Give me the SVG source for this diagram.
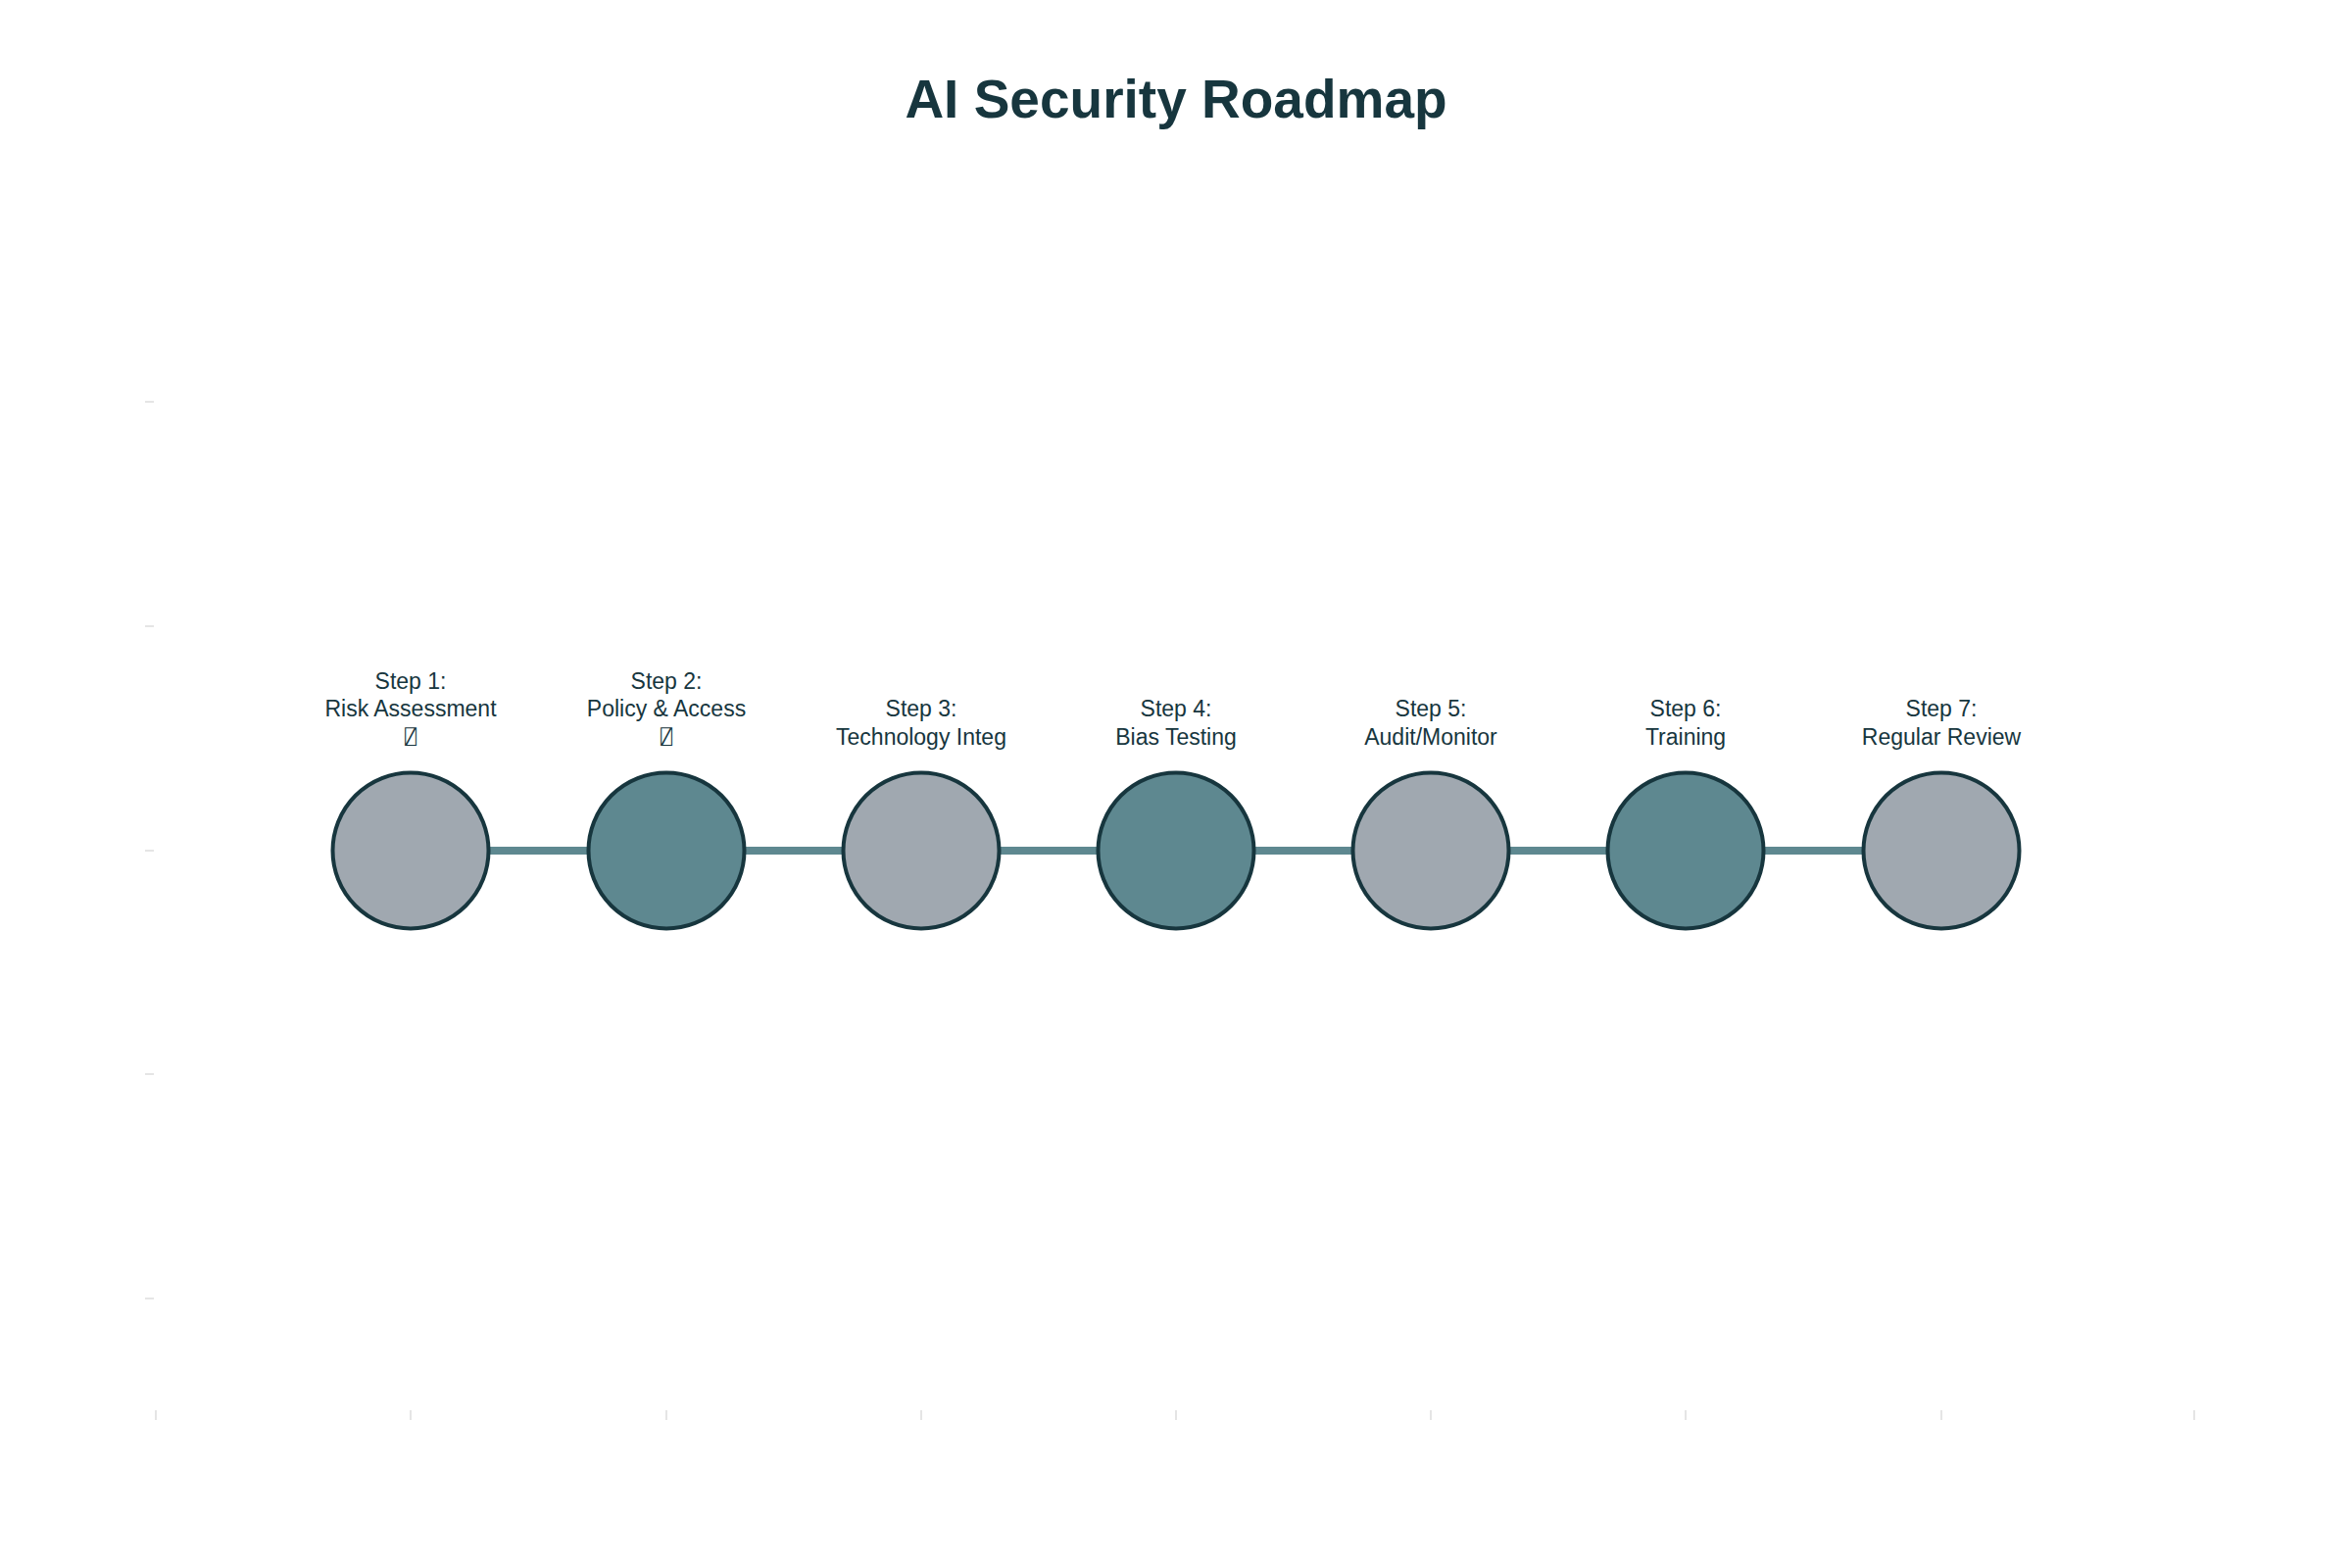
<svg xmlns="http://www.w3.org/2000/svg" width="2400" height="1600" viewBox="0 0 2400 1600">
<style>
.title{font-family:"Liberation Sans",Arial,sans-serif;font-weight:bold;font-size:55px;fill:#17363e}
.lbl{font-family:"Liberation Sans",Arial,sans-serif;font-size:23px;fill:#17363e;text-anchor:middle}
.ico{font-family:"DejaVu Sans","DejaVu Sans Mono",sans-serif;font-size:20px;fill:#17363e;text-anchor:middle}
.grey{fill:#a0a8b0;stroke:#17363e;stroke-width:4}
.teal{fill:#5e8890;stroke:#17363e;stroke-width:4}
.tick{stroke:#dcdcdc;stroke-width:1.5}
.conn{stroke:#5e8890;stroke-width:8}
</style>
<rect width="2400" height="1600" fill="#ffffff"/>
<text class="title" x="1200" y="120" text-anchor="middle">AI Security Roadmap</text>
<g id="axes">
<line class="tick" x1="148" y1="410" x2="157" y2="410"/>
<line class="tick" x1="148" y1="639" x2="157" y2="639"/>
<line class="tick" x1="148" y1="868" x2="157" y2="868"/>
<line class="tick" x1="148" y1="1096" x2="157" y2="1096"/>
<line class="tick" x1="148" y1="1325" x2="157" y2="1325"/>
<line class="tick" x1="159" y1="1439" x2="159" y2="1449"/>
<line class="tick" x1="419" y1="1439" x2="419" y2="1449"/>
<line class="tick" x1="680" y1="1439" x2="680" y2="1449"/>
<line class="tick" x1="940" y1="1439" x2="940" y2="1449"/>
<line class="tick" x1="1200" y1="1439" x2="1200" y2="1449"/>
<line class="tick" x1="1460" y1="1439" x2="1460" y2="1449"/>
<line class="tick" x1="1720" y1="1439" x2="1720" y2="1449"/>
<line class="tick" x1="1981" y1="1439" x2="1981" y2="1449"/>
<line class="tick" x1="2239" y1="1439" x2="2239" y2="1449"/>
</g>
<g id="connectors">
<line class="conn" x1="419" y1="868" x2="680" y2="868"/>
<line class="conn" x1="680" y1="868" x2="940" y2="868"/>
<line class="conn" x1="940" y1="868" x2="1200" y2="868"/>
<line class="conn" x1="1200" y1="868" x2="1460" y2="868"/>
<line class="conn" x1="1460" y1="868" x2="1720" y2="868"/>
<line class="conn" x1="1720" y1="868" x2="1981" y2="868"/>
</g>
<g id="step1">
<circle class="grey" cx="419" cy="868" r="79.5"/>
<text class="lbl" x="419" y="703">Step 1:</text>
<text class="lbl" x="419" y="731">Risk Assessment</text>
<text class="ico" x="419" y="759">⍁</text>
</g>
<g id="step2">
<circle class="teal" cx="680" cy="868" r="79.5"/>
<text class="lbl" x="680" y="703">Step 2:</text>
<text class="lbl" x="680" y="731">Policy &amp; Access</text>
<text class="ico" x="680" y="759">⍁</text>
</g>
<g id="step3">
<circle class="grey" cx="940" cy="868" r="79.5"/>
<text class="lbl" x="940" y="731">Step 3:</text>
<text class="lbl" x="940" y="760">Technology Integ</text>
</g>
<g id="step4">
<circle class="teal" cx="1200" cy="868" r="79.5"/>
<text class="lbl" x="1200" y="731">Step 4:</text>
<text class="lbl" x="1200" y="760">Bias Testing</text>
</g>
<g id="step5">
<circle class="grey" cx="1460" cy="868" r="79.5"/>
<text class="lbl" x="1460" y="731">Step 5:</text>
<text class="lbl" x="1460" y="760">Audit/Monitor</text>
</g>
<g id="step6">
<circle class="teal" cx="1720" cy="868" r="79.5"/>
<text class="lbl" x="1720" y="731">Step 6:</text>
<text class="lbl" x="1720" y="760">Training</text>
</g>
<g id="step7">
<circle class="grey" cx="1981" cy="868" r="79.5"/>
<text class="lbl" x="1981" y="731">Step 7:</text>
<text class="lbl" x="1981" y="760">Regular Review</text>
</g>
</svg>
